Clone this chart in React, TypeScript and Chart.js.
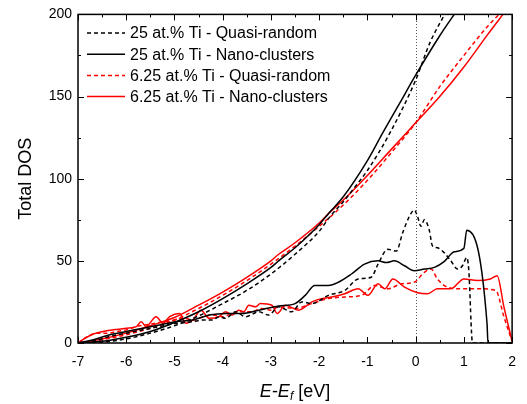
import React, { useEffect, useRef } from "react";
import { Chart, registerables } from "chart.js";

Chart.register(...registerables);

const FONT = "'Liberation Sans', Arial, sans-serif";

const X_TICKS = [-7, -6, -5, -4, -3, -2, -1, 0, 1, 2];
const Y_TICKS = [0, 50, 100, 150, 200];

const LABELS = [
  "25 at.% Ti - Quasi-random",
  "25 at.% Ti - Nano-clusters",
  "6.25 at.% Ti - Quasi-random",
  "6.25 at.% Ti - Nano-clusters",
];
const COLORS = ["#000000", "#000000", "#ff0000", "#ff0000"];
const DASHED = [true, false, true, false];

// DOS curves
const qr25DosE = [-7, -6.7, -6.34, -6.0, -5.65, -5.31, -4.97, -4.62, -4.42, -4.21, -4.08, -3.94, -3.73, -3.53, -3.25, -3.05, -2.84, -2.57, -2.36, -2.15, -1.81, -1.47, -1.19, -0.92, -0.78, -0.58, -0.4, -0.27, -0.13, -0.03, 0.04, 0.11, 0.18, 0.28, 0.35, 0.45, 0.59, 0.73, 0.87, 0.97, 1.06, 1.1, 1.18, 2.0];
const qr25Dos = [0, 1, 4, 6, 8, 10, 12, 13, 14, 14, 16, 15, 19, 16, 19, 17, 22, 19, 25, 24, 29, 32, 39, 40, 48, 57, 56, 67, 77, 81, 77, 71, 75, 69, 59, 58, 55, 50, 45, 47, 52, 45, 0, 0];

const nc25DosE = [-7, -6.68, -6.34, -6.0, -5.65, -5.31, -4.97, -4.62, -4.28, -3.94, -3.6, -3.25, -2.84, -2.5, -2.29, -2.09, -1.81, -1.6, -1.33, -1.06, -0.78, -0.61, -0.44, -0.23, -0.03, 0.18, 0.39, 0.59, 0.8, 1.0, 1.06, 1.48, 1.5, 2.0];
const nc25Dos = [0, 2, 5, 7, 9, 11, 13, 14, 17, 18, 18, 20, 22.5, 24, 29, 35, 35, 37, 42, 48, 50, 49, 50, 47, 44, 45, 46, 49.5, 55.5, 57.6, 68.7, 12, 0, 0];

const qr625DosE = [-7, -6.8, -6.6, -6.4, -6.2, -6.0, -5.8, -5.6, -5.4, -5.2, -5.0, -4.8, -4.6, -4.4, -4.2, -4.0, -3.8, -3.6, -3.4, -3.2, -3.0, -2.84, -2.5, -2.15, -1.81, -1.47, -1.12, -0.85, -0.57, -0.3, -0.03, 0.18, 0.32, 0.45, 0.66, 0.94, 1.28, 1.66, 1.83, 2.0];
const qr625Dos = [0, 4, 6, 6, 7, 8, 10, 11, 12, 13, 14, 15, 14, 16, 17, 16, 18, 19, 19, 21, 20, 22, 21, 24, 27, 28, 29, 35, 33, 36, 37, 43, 45, 39, 34, 33, 33, 32, 16, 1];

const nc625DosE = [-7, -6.85, -6.68, -6.48, -6.27, -6.0, -5.79, -5.69, -5.59, -5.38, -5.24, -5.1, -4.9, -4.76, -4.62, -4.45, -4.28, -4.08, -3.94, -3.8, -3.67, -3.56, -3.46, -3.32, -3.22, -2.98, -2.87, -2.7, -2.43, -2.15, -1.95, -1.74, -1.47, -1.19, -0.99, -0.78, -0.64, -0.47, -0.23, 0.04, 0.25, 0.45, 0.73, 1.0, 1.28, 1.55, 1.69, 1.83, 2.0];
const nc625Dos = [0, 3, 5.5, 7, 8, 9, 10, 13, 10, 16, 12, 16, 18, 12, 14, 20, 15, 16, 19, 17, 20, 19, 23, 22, 24, 23, 18, 23, 20, 25, 27, 28, 30, 33, 29, 36, 33, 39, 34, 30.6, 30, 33, 33, 39, 38, 39, 41, 22, 1];

// Integrated curves
const qr25IntE = [-7, -6.5, -6, -5.5, -5, -4.5, -4, -3.5, -3, -2.5, -2, -1.8, -1.5, -1.23, -1, -0.53, 0, 0.3, 0.6];
const qr25Int = [0, 0.5, 2.5, 6, 10.5, 16.5, 24, 32, 42, 54, 68, 76, 86, 96, 105, 128, 160, 183, 200];

const nc25IntE = [-7, -6.5, -6, -5.5, -5, -4.5, -4, -3.5, -3, -2.84, -2.5, -2, -1.8, -1.5, -1, -0.68, -0.33, 0, 0.5, 0.8];
const nc25Int = [0, 1, 3.5, 7, 12.5, 19, 27, 36, 46, 50, 58, 72, 79, 89, 111, 128, 146, 163, 187, 200];

const qr625IntE = [-7, -6.5, -6, -5.5, -5, -4.5, -4, -3.5, -3, -2.5, -2, -1.5, -1, -0.5, 0, 0.5, 1, 1.5, 1.73];
const qr625Int = [0, 2, 5, 9, 14, 21, 29, 38, 48, 59, 71, 84, 99, 116, 134, 156, 175, 193, 200];

const nc625IntE = [-7, -6.5, -6, -5.5, -5, -4.5, -4, -3.5, -3, -2.84, -2.5, -2, -1.8, -1.5, -1, -0.5, 0, 0.5, 1, 1.5, 1.81];
const nc625Int = [0, 2.5, 6, 10.5, 15.5, 23, 31, 40, 50, 54, 61, 73, 79, 87, 102, 118, 134, 150, 168, 188, 200];

const DOS_E = [qr25DosE, nc25DosE, qr625DosE, nc625DosE];
const DOS_V = [qr25Dos, nc25Dos, qr625Dos, nc625Dos];
const INT_E = [qr25IntE, nc25IntE, qr625IntE, nc625IntE];
const INT_V = [qr25Int, nc25Int, qr625Int, nc625Int];

const pts = (xs: number[], ys: number[]) => xs.map((x, i) => ({ x, y: ys[i] }));

const DASH = [4, 3];
const LINE_W = 1.5;

const decor = {
  id: "decor",
  beforeDatasetsDraw(chart: any) {
    const { ctx, chartArea, scales } = chart;
    const px = scales.x.getPixelForValue(0);
    ctx.save();
    ctx.strokeStyle = "#555";
    ctx.lineWidth = 1;
    ctx.setLineDash([1, 2]);
    ctx.beginPath();
    ctx.moveTo(Math.round(px) + 0.5, chartArea.bottom);
    ctx.lineTo(Math.round(px) + 0.5, chartArea.top);
    ctx.stroke();
    ctx.restore();
  },
  afterDraw(chart: any) {
    const { ctx, chartArea, scales } = chart;
    const { left, right, top, bottom } = chartArea;
    ctx.save();
    ctx.strokeStyle = "#000";
    ctx.lineWidth = 1.5;
    ctx.setLineDash([]);
    ctx.strokeRect(left, top, right - left, bottom - top);
    // ticks
    ctx.lineWidth = 1;
    const major = 6, minor = 3;
    const xs = scales.x, ys = scales.y;
    ctx.beginPath();
    X_TICKS.forEach((v, i) => {
      const p = Math.round(xs.getPixelForValue(v)) + 0.5;
      ctx.moveTo(p, bottom); ctx.lineTo(p, bottom - major);
      ctx.moveTo(p, top); ctx.lineTo(p, top + major);
      if (i < X_TICKS.length - 1) {
        const m = Math.round(xs.getPixelForValue((v + X_TICKS[i + 1]) / 2)) + 0.5;
        ctx.moveTo(m, bottom); ctx.lineTo(m, bottom - minor);
        ctx.moveTo(m, top); ctx.lineTo(m, top + minor);
      }
    });
    Y_TICKS.forEach((v, i) => {
      const p = Math.round(ys.getPixelForValue(v)) + 0.5;
      ctx.moveTo(left, p); ctx.lineTo(left + major, p);
      ctx.moveTo(right, p); ctx.lineTo(right - major, p);
      if (i < Y_TICKS.length - 1) {
        const m = Math.round(ys.getPixelForValue((v + Y_TICKS[i + 1]) / 2)) + 0.5;
        ctx.moveTo(left, m); ctx.lineTo(left + minor, m);
        ctx.moveTo(right, m); ctx.lineTo(right - minor, m);
      }
    });
    ctx.stroke();

    // legend
    ctx.font = `16px ${FONT}`;
    ctx.textBaseline = "middle";
    ctx.fillStyle = "#000";
    LABELS.forEach((lab, i) => {
      const y = 33 + i * 21.2;
      ctx.strokeStyle = COLORS[i];
      ctx.lineWidth = LINE_W;
      ctx.setLineDash(DASHED[i] ? DASH : []);
      ctx.beginPath();
      ctx.moveTo(left + 9, y);
      ctx.lineTo(left + 47, y);
      ctx.stroke();
      ctx.fillText(lab, left + 52, y + 1);
    });
    ctx.setLineDash([]);

    // axis titles
    ctx.font = `18px ${FONT}`;
    ctx.save();
    ctx.translate(26, (top + bottom) / 2);
    ctx.rotate(-Math.PI / 2);
    ctx.textAlign = "center";
    ctx.textBaseline = "middle";
    ctx.fillText("Total DOS", 0, 0);
    ctx.restore();

    const parts = [
      { t: "E", f: `italic 18px ${FONT}`, dy: 0 },
      { t: "-", f: `18px ${FONT}`, dy: 0 },
      { t: "E", f: `italic 18px ${FONT}`, dy: 0 },
      { t: "f", f: `italic 12px ${FONT}`, dy: 5 },
      { t: " [eV]", f: `18px ${FONT}`, dy: 0 },
    ];
    let total = 0;
    parts.forEach((p) => { ctx.font = p.f; total += ctx.measureText(p.t).width; });
    let x = (left + right) / 2 - total / 2;
    ctx.textAlign = "left";
    ctx.textBaseline = "middle";
    parts.forEach((p) => {
      ctx.font = p.f;
      ctx.fillText(p.t, x, 392 + p.dy);
      x += ctx.measureText(p.t).width;
    });
    ctx.restore();
  },
};

export default function App() {
  const ref = useRef<HTMLCanvasElement | null>(null);
  useEffect(() => {
    if (!ref.current) return;
    const datasets: any[] = [];
    for (let i = 0; i < 4; i++) {
      const common = {
        borderColor: COLORS[i],
        backgroundColor: COLORS[i],
        borderWidth: LINE_W,
        borderDash: DASHED[i] ? DASH : [],
        pointRadius: 0,
        fill: false,
        cubicInterpolationMode: "monotone",
      };
      datasets.push({ ...common, label: LABELS[i], data: pts(DOS_E[i], DOS_V[i]) });
      datasets.push({ ...common, label: LABELS[i] + " (integrated)", data: pts(INT_E[i], INT_V[i]) });
    }
    const chart = new Chart(ref.current, {
      type: "line",
      data: { datasets },
      options: {
        animation: false,
        responsive: false,
        devicePixelRatio: 1,
        layout: { padding: { left: 0, right: 12, top: 14, bottom: 0 } },
        plugins: { legend: { display: false }, tooltip: { enabled: false } },
        scales: {
          x: {
            type: "linear",
            min: -7,
            max: 2,
            afterBuildTicks: (s: any) => { s.ticks = X_TICKS.map((v) => ({ value: v })); },
            afterFit: (s: any) => { s.height = 61; },
            grid: { display: false, drawTicks: false },
            border: { display: false },
            ticks: { color: "#000", font: { family: FONT, size: 14 }, padding: 11, maxRotation: 0, autoSkip: false },
          },
          y: {
            type: "linear",
            min: 0,
            max: 200,
            afterBuildTicks: (s: any) => { s.ticks = Y_TICKS.map((v) => ({ value: v })); },
            afterFit: (s: any) => { s.width = 78; },
            grid: { display: false, drawTicks: false },
            border: { display: false },
            ticks: { color: "#000", font: { family: FONT, size: 14 }, padding: 6 },
          },
        },
      } as any,
      plugins: [decor],
    });
    return () => chart.destroy();
  }, []);
  return (
    <div style={{ position: "absolute", left: 0, top: 0, width: 527, height: 404, background: "#fff" }}>
      <canvas ref={ref} width={527} height={404} />
    </div>
  );
}
